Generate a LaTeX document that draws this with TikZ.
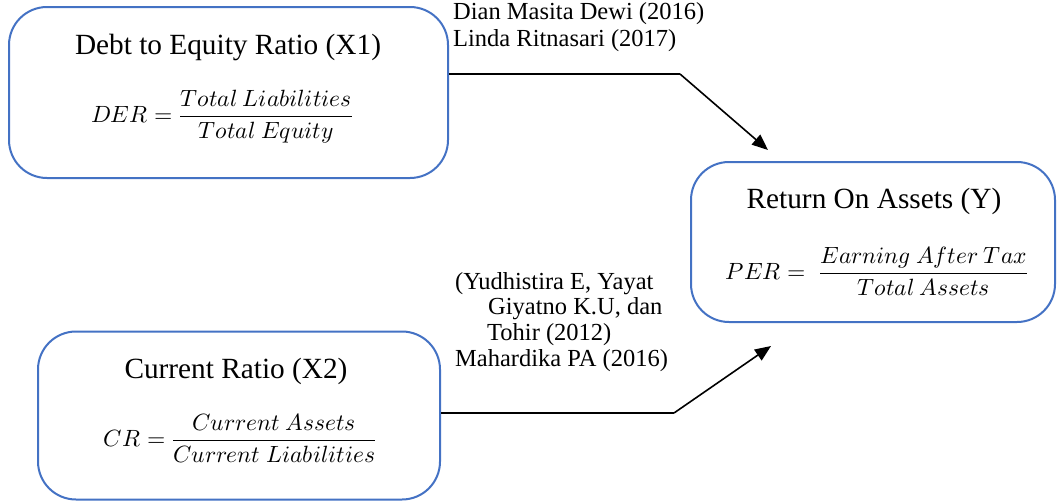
\documentclass[tikz,border=0pt]{standalone}
\usepackage{amsmath}
\usepackage{fontspec}
\usepackage{unicode-math}
\setmainfont{Liberation Serif}
\setmathfont{Latin Modern Math}
\usetikzlibrary{arrows.meta}
\definecolor{boxblue}{HTML}{4472C4}
\tikzset{
  varbox/.style={draw=boxblue, line width=2pt, rounded corners=38pt, inner sep=0pt},
  title/.style={font=\fontsize{29.3}{33}\selectfont, inner sep=0pt},
  formula/.style={font=\fontsize{23.5}{28}\selectfont, inner sep=0pt},
  cite/.style={font=\fontsize{24.5}{27}\selectfont, inner sep=0pt, align=left, anchor=north west},
  link/.style={line width=1.6pt, -{Triangle[length=16pt,width=13pt]}}
}
\begin{document}
\begin{tikzpicture}[x=1pt,y=-1pt]
\useasboundingbox (0,0) rectangle (1057,501);
% boxes
\node[varbox, minimum width=439pt, minimum height=171pt] (x1) at (228.5,92.5) {};
\node[varbox, minimum width=364pt, minimum height=160pt] (y) at (873,242) {};
\node[varbox, minimum width=402pt, minimum height=168pt] (x2) at (239,415.5) {};
% box texts
\node[title] (x1t) at (228,47) {Debt to Equity Ratio (X1)};
\node[formula] (x1f) at (222,117) {$DER=\dfrac{Total\ Liabilities}{Total\ Equity}$};
\node[title] (yt) at (874,201) {Return On Assets (Y)};
\node[formula] (yf) at (877,271) {$PER=\;\dfrac{Earning\ After\ Tax}{Total\ Assets}$};
\node[title] (x2t) at (236,371) {Current Ratio (X2)};
\node[formula] (x2f) at (240,438) {$CR=\dfrac{Current\ Assets}{Current\ Liabilities}$};
% citations
\node[cite] (c1) at (453,2) {Dian Masita Dewi (2016)\\Linda Ritnasari (2017)};
\node[cite] (c2a) at (455,272) {(Yudhistira E, Yayat};
\node[cite] (c2b) at (488,297.5) {Giyatno K.U, dan};
\node[cite] (c2c) at (487,323) {Tohir (2012)};
\node[cite] (c2d) at (455,349) {Mahardika PA (2016)};
% connectors
\coordinate (b1) at (680,74);
\coordinate (e1) at (768,150);
\coordinate (b2) at (674,413);
\coordinate (e2) at (771,346);
\draw[line width=1.6pt] (x1.east |- b1) -- (b1);
\draw[link] (b1) -- (e1);
\draw[line width=1.6pt] (x2.east |- b2) -- (b2);
\draw[link] (b2) -- (e2);
\end{tikzpicture}
\end{document}
